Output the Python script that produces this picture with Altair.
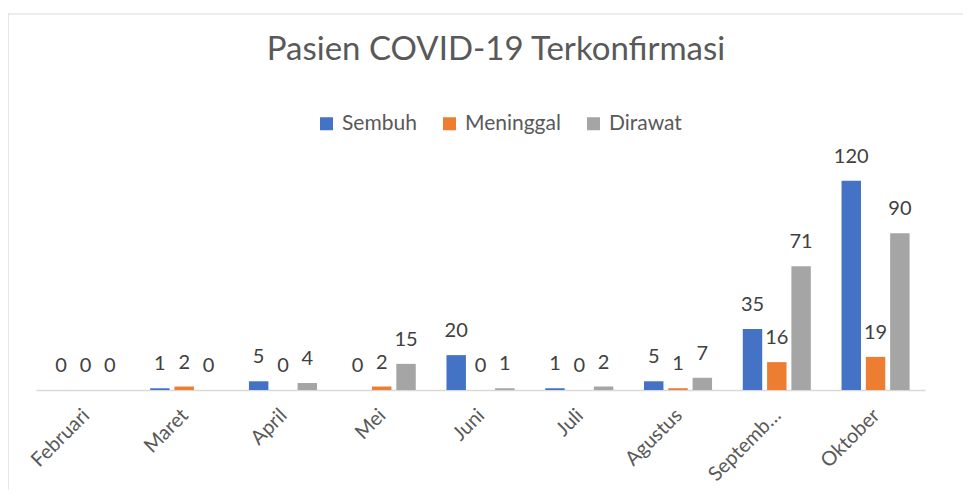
import altair as alt
import pandas as pd

months = ["Februari", "Maret", "April", "Mei", "Juni", "Juli", "Agustus", "September", "Oktober"]
series = ["Sembuh", "Meninggal", "Dirawat"]
sembuh = [0, 1, 5, 0, 20, 1, 5, 35, 120]
meninggal = [0, 2, 0, 2, 0, 0, 1, 16, 19]
dirawat = [0, 0, 4, 15, 1, 2, 7, 71, 90]
colors = ["#4472C4", "#ED7D31", "#A5A5A5"]

rows = []
for i, m in enumerate(months):
    for s, vals in zip(series, [sembuh, meninggal, dirawat]):
        rows.append({"Bulan": m, "Seri": s, "Nilai": vals[i]})
df = pd.DataFrame(rows)

FONT = "Lato"
W, H = 889, 244

x_enc = alt.X(
    "Bulan:N",
    sort=months,
    scale=alt.Scale(paddingInner=0.311, paddingOuter=0.156),
    axis=alt.Axis(
        title=None,
        labelAngle=-45,
        labelAlign="right",
        labelBaseline="middle",
        labelFontSize=20,
        labelFont=FONT,
        labelColor="#595959",
        labelPadding=22,
        labelOffset=1,
        labelLimit=93,
        ticks=False,
        domainColor="#D9D9D9",
        domainWidth=1.5,
        grid=False,
    ),
)
xo_enc = alt.XOffset("Seri:N", sort=series, scale=alt.Scale(paddingInner=0.2, paddingOuter=0))
y_enc = alt.Y("Nilai:Q", scale=alt.Scale(domain=[0, 140], nice=False, zero=True), axis=None)
color_enc = alt.Color(
    "Seri:N",
    sort=series,
    scale=alt.Scale(domain=series, range=colors),
    legend=alt.Legend(
        title=None,
        orient="none",
        direction="horizontal",
        legendX=280,
        legendY=-33,
        symbolType="square",
        symbolSize=169,
        symbolStrokeWidth=0,
        labelFontSize=21,
        labelFont=FONT,
        labelColor="#595959",
        labelOffset=5,
        columnPadding=22,
    ),
)

base = alt.Chart(df)
bars = base.mark_bar().encode(x=x_enc, xOffset=xo_enc, y=y_enc, color=color_enc)
labels = base.mark_text(dy=-24, fontSize=20, font=FONT, color="#404040").encode(
    x=x_enc, xOffset=xo_enc, y=y_enc, text="Nilai:Q"
)

border = alt.Chart(pd.DataFrame({"k": [0]})).mark_rect(
    fillOpacity=0, stroke="#D9D9D9", strokeWidth=1.2
).encode(x=alt.value(-28), x2=alt.value(1000), y=alt.value(-132), y2=alt.value(600))

chart = (
    alt.layer(border, bars, labels)
    .properties(
        width=W,
        height=H,
        padding={"left": 28, "top": 138, "right": 38, "bottom": 100},
        autosize=alt.AutoSizeParams(type="none"),
        title=alt.TitleParams(
            "Pasien COVID-19 Terkonfirmasi",
            fontSize=33,
            font=FONT,
            fontWeight="normal",
            color="#595959",
            anchor="middle",
            frame="group",
            offset=0,
            baseline="alphabetic",
            dx=15.5,
            dy=80,
        ),
    )
    .configure_view(stroke=None)
)

chart.save("out.html", embed_options={"renderer": "svg", "actions": False})
